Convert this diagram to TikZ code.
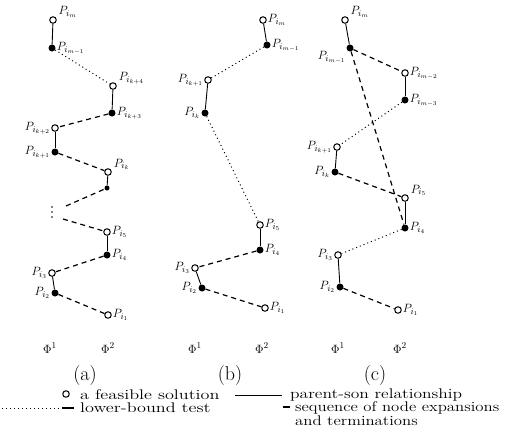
\documentclass[tikz,border=0pt]{standalone}
\begin{document}
\begin{tikzpicture}[x=1pt,y=-1pt,
 opn/.style={circle,draw,line width=1pt,inner sep=0pt,minimum size=6.5pt,fill=white},
 fil/.style={circle,fill,inner sep=0pt,minimum size=7pt},
 ps/.style={line width=0.9pt},
 seq/.style={line width=1.2pt,dash pattern=on 5pt off 4pt},
 lbt/.style={line width=1pt,dash pattern=on 1pt off 3pt},
 every label/.style={font=\fontsize{13}{15}\selectfont,inner sep=1pt},
 phi/.style={font=\fontsize{13}{15}\selectfont},
 pcap/.style={font=\fontsize{20}{22}\selectfont},
 leg/.style={font=\fontsize{14}{16}\selectfont,anchor=west,inner sep=0pt}
]
\useasboundingbox (0,0) rectangle (506,437);
% ---------------- (a)
\node[opn,label={[label distance=1pt]20:$P_{i_m}$}] (a1) at (53,20) {};
\node[fil,label=right:$P_{i_{m-1}}$] (a2) at (52,48) {};
\node[opn,label={[label distance=1pt]10:$P_{i_{k+4}}$}] (a3) at (113,86) {};
\node[fil,label=right:$P_{i_{k+3}}$] (a4) at (112,113) {};
\node[opn,label=left:$P_{i_{k+2}}$] (a5) at (55,128) {};
\node[fil,label=left:$P_{i_{k+1}}$] (a6) at (55,152) {};
\node[opn,label={[label distance=1pt]10:$P_{i_k}$}] (a7) at (108,172) {};
\node[fil,minimum size=5pt] (a8) at (107,188) {};
\fill (52,207) circle (0.8pt) (52,212) circle (0.8pt) (52,217) circle (0.8pt);
\coordinate (ae1) at (66,206);
\coordinate (ae2) at (63,219);
\node[opn,label=right:$P_{i_5}$] (a9) at (107,232) {};
\node[fil,label=right:$P_{i_4}$] (a10) at (107,255) {};
\node[opn,label=left:$P_{i_3}$] (a11) at (52,273) {};
\node[fil,label=left:$P_{i_2}$] (a12) at (55,293) {};
\node[opn,label=right:$P_{i_1}$] (a13) at (108,315) {};
\draw[ps] (a1) -- (a2);
\draw[lbt] (a2) -- (a3);
\draw[ps] (a3) -- (a4);
\draw[seq] (a4) -- (a5);
\draw[ps] (a5) -- (a6);
\draw[seq] (a6) -- (a7);
\draw[ps] (a7) -- (a8);
\draw[seq] (ae1) -- (a8);
\draw[seq] (ae2) -- (a9);
\draw[ps] (a9) -- (a10);
\draw[seq] (a10) -- (a11);
\draw[ps] (a11) -- (a12);
\draw[seq] (a12) -- (a13);
\node[phi] (aphi1) at (50,348) {$\Phi^1$};
\node[phi] (aphi2) at (108,348) {$\Phi^2$};
\node[pcap] (acap) at (85,376) {(a)};
% ---------------- (b)
\node[opn,label=right:$P_{i_m}$] (b1) at (263,20) {};
\node[fil,label=right:$P_{i_{m-1}}$] (b2) at (267,45) {};
\node[opn,label=left:$P_{i_{k+1}}$] (b3) at (208,80) {};
\node[fil,label=left:$P_{i_k}$] (b4) at (205,113) {};
\node[opn,label=right:$P_{i_5}$] (b5) at (260,225) {};
\node[fil,label=right:$P_{i_4}$] (b6) at (260,250) {};
\node[opn,label=left:$P_{i_3}$] (b7) at (195,268) {};
\node[fil,label=left:$P_{i_2}$] (b8) at (202,288) {};
\node[opn,label=right:$P_{i_1}$] (b9) at (265,308) {};
\draw[ps] (b1) -- (b2);
\draw[lbt] (b2) -- (b3);
\draw[ps] (b3) -- (b4);
\draw[lbt] (b4) -- (b5);
\draw[ps] (b5) -- (b6);
\draw[seq] (b6) -- (b7);
\draw[ps] (b7) -- (b8);
\draw[seq] (b8) -- (b9);
\node[phi] (bphi1) at (195,348) {$\Phi^1$};
\node[phi] (bphi2) at (262,348) {$\Phi^2$};
\node[pcap] (bcap) at (230,376) {(b)};
% ---------------- (c)
\node[opn,label={[label distance=1pt]20:$P_{i_m}$}] (c1) at (345,20) {};
\node[fil,label={[label distance=0pt]-150:$P_{i_{m-1}}$}] (c2) at (350,48) {};
\node[opn,label=right:$P_{i_{m-2}}$] (c3) at (405,73) {};
\node[fil,label=right:$P_{i_{m-3}}$] (c4) at (405,100) {};
\node[opn,label=left:$P_{i_{k+1}}$] (c5) at (337,147) {};
\node[fil,label=left:$P_{i_k}$] (c6) at (335,172) {};
\node[opn,label={[label distance=1pt]10:$P_{i_5}$}] (c7) at (405,198) {};
\node[fil,label=right:$P_{i_4}$] (c8) at (405,228) {};
\node[opn,label=left:$P_{i_3}$] (c9) at (338,255) {};
\node[fil,label=left:$P_{i_2}$] (c10) at (340,287) {};
\node[opn,label=right:$P_{i_1}$] (c11) at (398,310) {};
\draw[ps] (c1) -- (c2);
\draw[seq] (c2) -- (c3);
\draw[ps] (c3) -- (c4);
\draw[lbt] (c4) -- (c5);
\draw[ps] (c5) -- (c6);
\draw[seq] (c6) -- (c7);
\draw[seq] (c2) -- (c8);
\draw[ps] (c7) -- (c8);
\draw[lbt] (c8) -- (c9);
\draw[ps] (c9) -- (c10);
\draw[seq] (c10) -- (c11);
\node[phi] (cphi1) at (338,348) {$\Phi^1$};
\node[phi] (cphi2) at (400,348) {$\Phi^2$};
\node[pcap] (ccap) at (375,376) {(c)};
% ---------------- legend
\node[opn] (l1) at (66,394) {};
\node[leg] (t1) at (80,395) {\scalebox{1.3}[1]{a feasible solution}};
\coordinate (l2a) at (235,395);
\coordinate (l2b) at (282,395);
\draw[ps] (l2a) -- (l2b);
\node[leg] (t2) at (290,395) {\scalebox{1.25}[1]{parent-son relationship}};
\coordinate (l3a) at (2,408);
\coordinate (l3b) at (62,408);
\coordinate (l3c) at (74,408);
\draw[lbt] (l3a) -- (l3b);
\draw[line width=1.2pt] (l3b) -- (l3c);
\node[leg] (t3) at (80,408) {\scalebox{1.3}[1]{lower-bound test}};
\coordinate (l4a) at (283,407);
\coordinate (l4b) at (290,407);
\draw[line width=1.2pt] (l4a) -- (l4b);
\node[leg] (t4) at (295,408) {\scalebox{1.2}[1]{sequence of node expansions}};
\node[leg] (t5) at (295,421) {\scalebox{1.2}[1]{and terminations}};
\end{tikzpicture}
\end{document}
